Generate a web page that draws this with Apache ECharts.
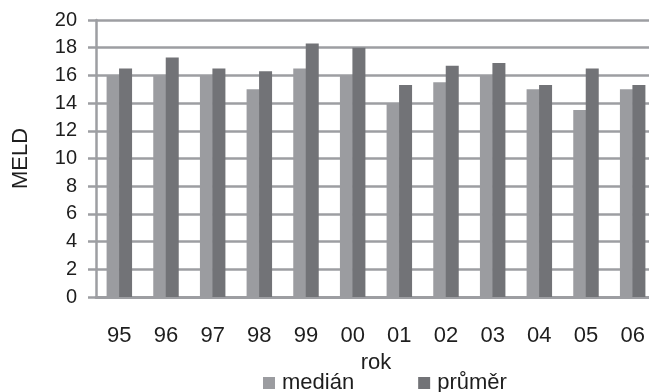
<!DOCTYPE html>
<html>
<head>
<meta charset="utf-8">
<script src="https://cdn.jsdelivr.net/npm/echarts@6/dist/echarts.min.js"></script>
<style>
  html, body { margin: 0; padding: 0; background: #fff; }
  #chart { width: 649px; height: 392px; }
</style>
</head>
<body>
<div id="chart"></div>
<script>
// MELD score per year: median and mean
const years = ['95', '96', '97', '98', '99', '00', '01', '02', '03', '04', '05', '06'];
const median = [16, 16, 16, 15, 16.5, 16, 14, 15.5, 16, 15, 13.5, 15];
const mean = [16.5, 17.3, 16.5, 16.3, 18.3, 18, 15.3, 16.7, 16.9, 15.3, 16.5, 15.3];
const yTicks = { min: 0, max: 20, interval: 2 };

const FONT = '"Liberation Sans", Arial, sans-serif';
const TEXT = '#1e1e1e';
const GRID = '#9d9ea2';

const chart = echarts.init(document.getElementById('chart'), null, { renderer: 'canvas' });
chart.setOption({
  animation: false,
  backgroundColor: '#ffffff',
  grid: { left: 96, right: -7, top: 20, bottom: 95, containLabel: false, outerBoundsMode: 'none' },
  legend: {
    left: 263,
    top: 372,
    padding: 0,
    itemWidth: 12,
    itemHeight: 12,
    itemGap: 64,
    icon: 'rect',
    textStyle: { fontFamily: FONT, fontSize: 22, color: TEXT, padding: [0, 0, 0, 2] },
    data: ['medián', 'průměr']
  },
  xAxis: {
    type: 'category',
    data: years,
    name: 'rok',
    nameLocation: 'middle',
    nameGap: 55,
    nameTextStyle: { fontFamily: FONT, fontSize: 22, color: TEXT },
    axisLine: { show: true, lineStyle: { color: GRID, width: 3 } },
    axisTick: { show: false },
    axisLabel: { fontFamily: FONT, fontSize: 22, color: TEXT, margin: 28 }
  },
  yAxis: {
    type: 'value',
    min: yTicks.min,
    max: yTicks.max,
    interval: yTicks.interval,
    name: 'MELD',
    nameLocation: 'middle',
    nameGap: 64,
    nameRotate: 90,
    nameTextStyle: { fontFamily: FONT, fontSize: 22, color: TEXT },
    axisLine: { show: true, lineStyle: { color: GRID, width: 2.5 } },
    axisTick: { show: true, length: 8, lineStyle: { color: GRID, width: 2.5 } },
    axisLabel: { fontFamily: FONT, fontSize: 20, color: TEXT, margin: 19 },
    splitLine: { show: true, lineStyle: { color: GRID, width: 2.5 } }
  },
  series: [
    {
      name: 'medián',
      type: 'bar',
      data: median,
      barWidth: 13,
      barGap: '-4%',
      itemStyle: { color: '#9b9ca0' }
    },
    {
      name: 'průměr',
      type: 'bar',
      data: mean,
      barWidth: 13,
      itemStyle: { color: '#727377' }
    }
  ]
});
</script>
</body>
</html>
